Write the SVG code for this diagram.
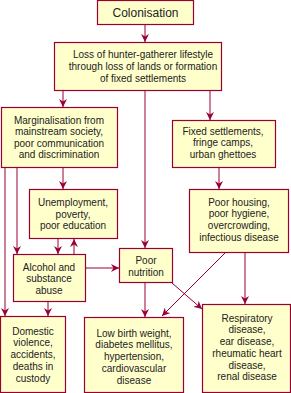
<svg xmlns="http://www.w3.org/2000/svg" width="291" height="393" viewBox="0 0 291 393">
<style>
.box{fill:#FFFFCC;stroke:#990033;stroke-width:1.2}
text{font-family:"Liberation Sans",Arial,sans-serif;font-size:10px;fill:#222;text-anchor:middle}
.c{stroke:#990033;stroke-width:1;fill:none;marker-end:url(#ah)}
</style>
<defs>
<marker id="ah" markerUnits="userSpaceOnUse" markerWidth="8" markerHeight="8" refX="8" refY="4" orient="auto">
<path d="M0,0 L8,4 L0,8 L2.5,4 z" fill="#990033"/>
</marker>
</defs>
<rect width="291" height="393" fill="#ffffff"/>
<g id="connectors">
<line class="c" x1="145" y1="25" x2="145" y2="42"/>
<line class="c" x1="63" y1="91" x2="63" y2="107"/>
<line class="c" x1="145" y1="91" x2="145" y2="248"/>
<line class="c" x1="210" y1="91" x2="210" y2="120"/>
<line class="c" x1="63" y1="168" x2="63" y2="189"/>
<line class="c" x1="5" y1="168" x2="5" y2="316"/>
<line class="c" x1="17" y1="168" x2="17" y2="254"/>
<line class="c" x1="58" y1="239" x2="58" y2="254"/>
<line class="c" x1="74" y1="254" x2="74" y2="239"/>
<line class="c" x1="86" y1="268" x2="119" y2="268"/>
<line class="c" x1="48" y1="302" x2="48" y2="316"/>
<line class="c" x1="219" y1="168" x2="219" y2="189"/>
<line class="c" x1="245" y1="253" x2="245" y2="304"/>
<line class="c" x1="225" y1="253" x2="162" y2="316"/>
<line class="c" x1="145" y1="283" x2="145" y2="317"/>
<line class="c" x1="172" y1="283" x2="202" y2="309"/>
</g>
<g id="colonisation">
<rect class="box" x="97.5" y="0.5" width="96" height="24"/>
<text x="145.5" y="16.5" style="font-size:12px">Colonisation</text>
</g>
<g id="loss">
<rect class="box" x="54.5" y="42.5" width="167" height="48"/>
<text x="143" y="57.5">Loss of hunter-gatherer lifestyle</text>
<text x="143" y="69.5">through loss of lands or formation</text>
<text x="143" y="81.5">of fixed settlements</text>
</g>
<g id="marginalisation">
<rect class="box" x="1.5" y="107.5" width="116" height="60"/>
<text x="59" y="123.5">Marginalisation from</text>
<text x="59" y="135">mainstream society,</text>
<text x="59" y="146.5">poor communication</text>
<text x="59" y="158">and discrimination</text>
</g>
<g id="unemployment">
<rect class="box" x="29.5" y="189.5" width="88" height="49"/>
<text x="73" y="205.5">Unemployment,</text>
<text x="73" y="217.5">poverty,</text>
<text x="73" y="229">poor education</text>
</g>
<g id="alcohol">
<rect class="box" x="13.5" y="254.5" width="72" height="47"/>
<text x="49" y="270.5">Alcohol and</text>
<text x="49" y="282">substance</text>
<text x="49" y="294">abuse</text>
</g>
<g id="domestic">
<rect class="box" x="0.5" y="316.5" width="65" height="76"/>
<text x="33" y="334.5">Domestic</text>
<text x="33" y="346">violence,</text>
<text x="33" y="358">accidents,</text>
<text x="33" y="370">deaths in</text>
<text x="33" y="381.5">custody</text>
</g>
<g id="nutrition">
<rect class="box" x="119.5" y="248.5" width="53" height="34"/>
<text x="146" y="263.5">Poor</text>
<text x="146" y="275.5">nutrition</text>
</g>
<g id="lowbirth">
<rect class="box" x="84.5" y="317.5" width="99" height="75"/>
<text x="134" y="336.5">Low birth weight,</text>
<text x="134" y="348">diabetes mellitus,</text>
<text x="134" y="359.5">hypertension,</text>
<text x="134" y="371.5">cardiovascular</text>
<text x="134" y="383.5">disease</text>
</g>
<g id="fixed">
<rect class="box" x="172.5" y="120.5" width="103" height="47"/>
<text x="223" y="134.5">Fixed settlements,</text>
<text x="223" y="146">fringe camps,</text>
<text x="223" y="158">urban ghettoes</text>
</g>
<g id="housing">
<rect class="box" x="189.5" y="189.5" width="99" height="63"/>
<text x="239" y="205.5">Poor housing,</text>
<text x="239" y="217">poor hygiene,</text>
<text x="239" y="229">overcrowding,</text>
<text x="239" y="240.5">infectious disease</text>
</g>
<g id="respiratory">
<rect class="box" x="202.5" y="304.5" width="88" height="88"/>
<text x="247" y="321.5">Respiratory</text>
<text x="247" y="333">disease,</text>
<text x="247" y="344.5">ear disease,</text>
<text x="247" y="356.5">rheumatic heart</text>
<text x="247" y="368.5">disease,</text>
<text x="247" y="380">renal disease</text>
</g>
</svg>
